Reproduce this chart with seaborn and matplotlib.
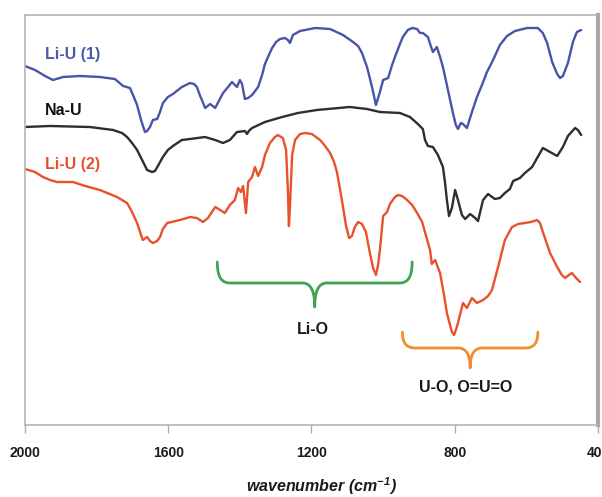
import numpy as np
import pandas as pd
import matplotlib
matplotlib.use("Agg")
import matplotlib.pyplot as plt
from matplotlib.path import Path
from matplotlib.patches import PathPatch
import seaborn as sns

# ---------------- data ----------------
wn_li1 = [2000, 1972, 1944, 1922, 1894, 1846, 1791, 1749, 1726, 1707,
          1696, 1687, 1676, 1665, 1659, 1651, 1643, 1631, 1623, 1615,
          1601, 1587, 1562, 1539, 1528, 1520, 1511, 1506, 1497, 1483,
          1469, 1447, 1433, 1422, 1414, 1408, 1400, 1394, 1386, 1377,
          1366, 1349, 1338, 1330, 1319, 1310, 1299, 1288, 1274, 1266,
          1260, 1252, 1232, 1218, 1190, 1148, 1112, 1084, 1070, 1059,
          1045, 1031, 1020, 1009, 1000, 986, 975, 967, 953, 945,
          931, 919, 905, 897, 889, 875, 866, 861, 850, 841,
          833, 819, 805, 797, 791, 783, 777, 766, 752, 738,
          724, 710, 693, 674, 654, 632, 598, 568, 554, 542,
          528, 514, 506, 498, 484, 470, 459, 447]
t_li1 = [359, 355, 349, 345, 348, 349, 348, 346, 339, 337,
         328, 320, 305, 293, 294, 298, 305, 306, 313, 322,
         328, 331, 338, 342, 341, 338, 329, 325, 317, 321,
         317, 332, 338, 343, 340, 338, 345, 341, 326, 327,
         330, 338, 350, 361, 370, 377, 383, 386, 387, 385,
         382, 390, 394, 395, 397, 396, 390, 383, 379, 372,
         358, 338, 320, 333, 345, 347, 360, 368, 381, 388,
         395, 397, 396, 392, 392, 388, 378, 373, 378, 368,
         358, 335, 312, 300, 296, 302, 301, 297, 313, 328,
         340, 353, 365, 380, 389, 394, 397, 397, 392, 382,
         363, 351, 347, 349, 362, 383, 393, 395]

wn_na = [2000, 1930, 1819, 1754, 1729, 1715, 1701, 1687, 1673, 1659,
         1645, 1637, 1629, 1615, 1601, 1587, 1562, 1539, 1497, 1469,
         1447, 1428, 1408, 1386, 1380, 1375, 1366, 1330, 1282, 1238,
         1185, 1093, 1045, 1009, 953, 925, 903, 889, 883, 875,
         861, 847, 833, 827, 822, 816, 808, 799, 791, 780,
         771, 757, 743, 735, 721, 707, 688, 674, 660, 646,
         637, 618, 604, 584, 570, 554, 534, 514, 498, 484,
         464, 456, 447]
t_na = [298, 299, 298, 295, 292, 288, 282, 275, 265, 255,
        253, 254, 259, 268, 275, 279, 285, 286, 288, 285,
        282, 285, 293, 294, 291, 294, 297, 303, 308, 312,
        315, 318, 316, 313, 312, 308, 301, 296, 285, 279,
        278, 270, 258, 242, 225, 209, 217, 235, 225, 210,
        206, 211, 207, 204, 225, 231, 226, 227, 232, 236,
        244, 247, 252, 258, 267, 277, 273, 269, 278, 289,
        297, 295, 290]

wn_li2 = [2000, 1972, 1950, 1930, 1911, 1866, 1832, 1791, 1743, 1715,
          1701, 1687, 1676, 1671, 1659, 1651, 1643, 1631, 1623, 1615,
          1603, 1567, 1539, 1520, 1503, 1489, 1469, 1455, 1442, 1428,
          1414, 1405, 1397, 1391, 1383, 1377, 1366, 1358, 1349, 1338,
          1330, 1316, 1302, 1294, 1280, 1271, 1266, 1263, 1260, 1254,
          1246, 1232, 1218, 1199, 1176, 1162, 1148, 1137, 1129, 1120,
          1112, 1104, 1095, 1087, 1079, 1070, 1059, 1048, 1037, 1028,
          1020, 1014, 1009, 1000, 989, 981, 967, 958, 947, 933,
          919, 905, 891, 877, 869, 864, 855, 841, 830, 822,
          808, 802, 797, 791, 777, 766, 752, 738, 721, 707,
          696, 679, 660, 640, 623, 604, 587, 570, 562, 554,
          534, 514, 501, 492, 481, 473, 461, 450]
t_li2 = [256, 253, 248, 245, 243, 243, 239, 235, 228, 222,
         213, 202, 190, 185, 188, 184, 182, 184, 188, 196,
         202, 205, 208, 207, 203, 207, 218, 215, 212, 220,
         225, 237, 233, 239, 212, 243, 248, 258, 249, 258,
         270, 282, 288, 290, 287, 275, 235, 199, 220, 270,
         285, 291, 292, 291, 285, 279, 272, 263, 253, 235,
         218, 200, 187, 189, 198, 203, 201, 193, 172, 157,
         150, 160, 175, 209, 213, 221, 228, 230, 229, 225,
         220, 212, 203, 185, 175, 161, 165, 152, 130, 112,
         93, 90, 95, 102, 122, 117, 127, 122, 125, 129,
         135, 158, 185, 198, 201, 202, 203, 205, 202, 193,
         172, 158, 150, 147, 150, 152, 147, 143]

series_names = ["Li-U (1)", "Na-U", "Li-U (2)"]
tick_values = [2000, 1600, 1200, 800, 400]

# band assignments: (label, wavenumber left, wavenumber right)
band_labels = ["Li-O", "U-O, O=U=O"]
band_left = [1463, 946]
band_right = [919, 568]

# ---------------- styling ----------------
sns.set_theme(style="white")
plt.rcParams["font.family"] = ["Liberation Sans", "DejaVu Sans"]
plt.rcParams["mathtext.fontset"] = "custom"
plt.rcParams["mathtext.rm"] = "Liberation Sans:bold:italic"
plt.rcParams["mathtext.it"] = "Liberation Sans:bold:italic"
plt.rcParams["mathtext.bf"] = "Liberation Sans:bold:italic"

colors = {"Li-U (1)": "#4854a8", "Na-U": "#2e2e2e", "Li-U (2)": "#e8512c"}
label_colors = {"Li-U (1)": "#4a58ab", "Na-U": "#111111", "Li-U (2)": "#e8502a"}

fig = plt.figure(figsize=(6.02, 4.97), dpi=100)
ax = fig.add_axes([25 / 602, 72 / 497, 573 / 602, 410 / 497])

frames = [
    pd.DataFrame({"wn": wn_li1, "T": t_li1, "sample": "Li-U (1)"}),
    pd.DataFrame({"wn": wn_na, "T": t_na, "sample": "Na-U"}),
    pd.DataFrame({"wn": wn_li2, "T": t_li2, "sample": "Li-U (2)"}),
]
df = pd.concat(frames, ignore_index=True)

sns.lineplot(data=df, x="wn", y="T", hue="sample", palette=colors,
             estimator=None, sort=False, units="sample", linewidth=1.7,
             legend=False, ax=ax)

ax.set_xlim(2000, 400)
ax.set_ylim(0, 410)

# series labels
label_y = {"Li-U (1)": 371, "Na-U": 315, "Li-U (2)": 261}
for name in series_names:
    ax.text(1944, label_y[name], name, color=label_colors[name],
            fontsize=11.5, fontweight="bold", ha="left", va="center")


def brace(ax, wl, wr, y_end, y_bar, y_tip, color):
    wm = (wl + wr) / 2.0
    rc = 36.0
    rt = 34.0
    dv = y_end - y_bar
    dt = y_bar - y_tip
    verts = [(wl, y_end), (wl, y_bar + 0.25 * dv), (wl - rc * 0.35, y_bar), (wl - rc, y_bar),
             (wm + rt, y_bar),
             (wm + rt * 0.3, y_bar), (wm, y_bar - 0.35 * dt), (wm, y_tip),
             (wm, y_bar - 0.35 * dt), (wm - rt * 0.3, y_bar), (wm - rt, y_bar),
             (wr + rc, y_bar),
             (wr + rc * 0.35, y_bar), (wr, y_bar + 0.25 * dv), (wr, y_end)]
    codes = [Path.MOVETO, Path.CURVE4, Path.CURVE4, Path.CURVE4,
             Path.LINETO,
             Path.CURVE4, Path.CURVE4, Path.CURVE4,
             Path.CURVE4, Path.CURVE4, Path.CURVE4,
             Path.LINETO,
             Path.CURVE4, Path.CURVE4, Path.CURVE4]
    ax.add_patch(PathPatch(Path(verts, codes), fill=False, edgecolor=color,
                           linewidth=2.0, capstyle="round", joinstyle="round"))
    return wm


brace_colors = ["#3aa655", "#f08e2e"]
brace_geom = [(163, 142, 118), (93, 77, 57)]
text_pos = [(1196, 95), (769, 38)]
for lab, wl, wr, col, (ye, yb, yt), (tx, ty) in zip(band_labels, band_left, band_right,
                                                    brace_colors, brace_geom, text_pos):
    brace(ax, wl, wr, ye, yb, yt, col)
    ax.text(tx, ty, lab, fontsize=11.5, fontweight="bold", color="#1a1a1a",
            ha="center", va="center")

# axes cosmetics
ax.set_xticks(tick_values)
ax.set_xticklabels([str(v) for v in tick_values], fontsize=10, fontweight="bold",
                   color="#1a1a1a")
ax.set_yticks([])
ax.tick_params(axis="x", direction="out", length=5.5, width=1, color="#b0b0b0",
               pad=9.5, bottom=True)
for side in ["top", "left", "bottom"]:
    ax.spines[side].set_color("#b4b4b4")
    ax.spines[side].set_linewidth(1.2)
ax.spines["right"].set_color("#a8a8a8")
ax.spines["right"].set_linewidth(3)
ax.set_ylabel("")
ax.set_xlabel(r"wavenumber (cm$^{-1}$)", fontsize=11.5, fontweight="bold",
              fontstyle="italic", color="#1a1a1a")
ax.xaxis.set_label_coords(0.517, -0.122)

fig.savefig("out.png", dpi=100)
